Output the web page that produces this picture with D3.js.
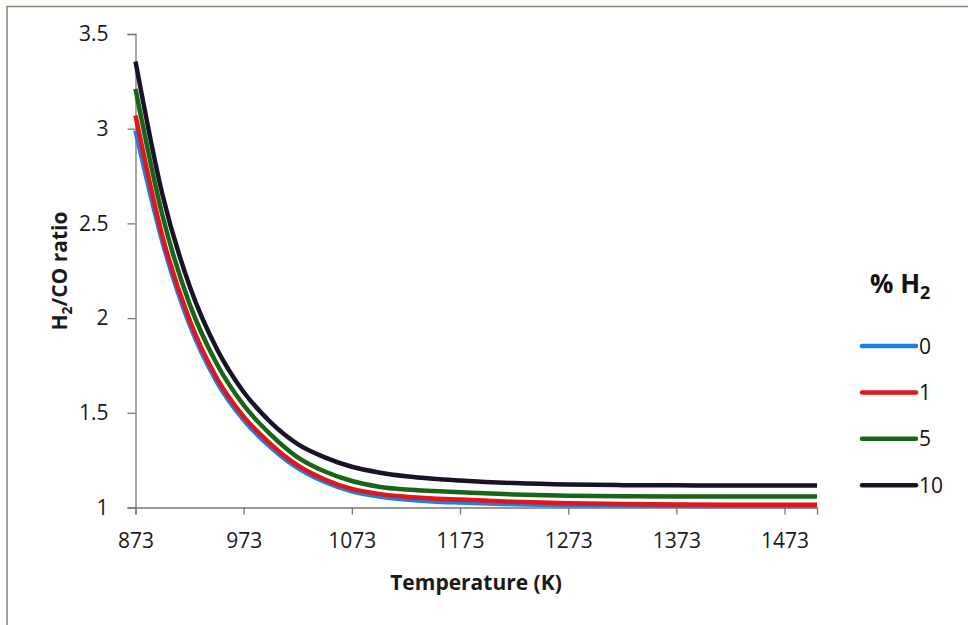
<!DOCTYPE html>
<html>
<head>
<meta charset="utf-8">
<script src="https://cdn.jsdelivr.net/npm/d3@7"></script>
<style>
  body { margin: 0; background: #fff; }
  svg { display: block; font-family: "Open Sans", sans-serif; }
</style>
</head>
<body>
<svg id="chart" width="976" height="625"></svg>
<script>
// temperature (K) where values were read
var temps = [873, 898, 923, 948, 973, 998, 1023, 1048, 1073, 1098, 1123, 1148, 1173, 1223, 1273, 1323, 1373, 1423, 1473, 1503];

// H2/CO ratio per % H2 in feed
var h2_0  = [2.99, 2.40, 1.965, 1.665, 1.462, 1.318, 1.208, 1.135, 1.085, 1.058, 1.042, 1.032, 1.026, 1.017, 1.012, 1.010, 1.009, 1.008, 1.008, 1.008];
var h2_1  = [3.07, 2.43, 1.99, 1.685, 1.48, 1.335, 1.222, 1.148, 1.098, 1.072, 1.057, 1.048, 1.042, 1.030, 1.022, 1.018, 1.016, 1.015, 1.015, 1.015];
var h2_5  = [3.21, 2.54, 2.075, 1.76, 1.54, 1.385, 1.265, 1.19, 1.14, 1.11, 1.095, 1.087, 1.081, 1.069, 1.062, 1.059, 1.058, 1.058, 1.058, 1.058];
var h2_10 = [3.355, 2.65, 2.17, 1.84, 1.61, 1.45, 1.335, 1.265, 1.215, 1.185, 1.165, 1.152, 1.143, 1.129, 1.121, 1.118, 1.117, 1.116, 1.116, 1.116];

var seriesNames = ["0", "1", "5", "10"];
var seriesColors = ["#1e7fe0", "#e3141b", "#176617", "#1a1226"];

var xTicks = [873, 973, 1073, 1173, 1273, 1373, 1473];
var yTicks = [1, 1.5, 2, 2.5, 3, 3.5];

var series = [h2_0, h2_1, h2_5, h2_10].map(function(vals, i){
	return { name: seriesNames[i], color: seriesColors[i],
		points: vals.map(function(v, j){ return { t: temps[j], v: v }; }) };
});

var svg = d3.select('#chart');

// scanned frame
svg.append('path')
	.attr('d', 'M7,625V6.5H968')
	.attr('fill', 'none')
	.attr('stroke', '#8c8272')
	.attr('stroke-width', 1.5);

var x = d3.scaleLinear().domain([873, 1503]).range([135.5, 817]);
var y = d3.scaleLinear().domain([1, 3.5]).range([507.5, 34]);

// axes
var xAxis = svg.append('g')
	.attr('transform', 'translate(0,' + y(1) + ')')
	.call(d3.axisBottom(x).tickValues(xTicks).tickSize(7).tickPadding(19).tickFormat(d3.format('d')));
var yAxis = svg.append('g')
	.attr('transform', 'translate(' + x(873) + ',0)')
	.call(d3.axisLeft(y).tickValues(yTicks).tickSize(8).tickPadding(19).tickFormat(function(d){ return d; }));

[xAxis, yAxis].forEach(function(a){
	a.select('.domain').attr('stroke', '#777').attr('stroke-width', 1.3);
	a.selectAll('.tick line').attr('stroke', '#777').attr('stroke-width', 1.3);
	a.selectAll('.tick text').attr('font-size', 21).attr('fill', '#1a1a1a').attr('font-family', '"Open Sans", sans-serif');
});

// lines
var line = d3.line()
	.x(function(d){ return x(d.t); })
	.y(function(d){ return y(d.v); })
	.curve(d3.curveMonotoneX);

svg.append('g').selectAll('path')
	.data(series)
	.enter()
	.append('path')
	.attr('d', function(d){ return line(d.points); })
	.attr('fill', 'none')
	.attr('stroke', function(d){ return d.color; })
	.attr('stroke-width', 4.5)
	.attr('stroke-linecap', 'butt');

// axis titles
svg.append('text')
	.attr('x', 476).attr('y', 590)
	.attr('text-anchor', 'middle')
	.attr('font-size', 21).attr('font-weight', 'bold').attr('fill', '#1a1a1a')
	.text('Temperature (K)');

var yt = svg.append('text')
	.attr('transform', 'translate(67,271) rotate(-90)')
	.attr('text-anchor', 'middle')
	.attr('font-size', 21).attr('font-weight', 'bold').attr('fill', '#1a1a1a');
yt.append('tspan').text('H');
yt.append('tspan').attr('font-size', 14).attr('dy', 5).text('2');
yt.append('tspan').attr('dy', -5).text('/CO ratio');

// legend
var lt = svg.append('text')
	.attr('x', 870).attr('y', 293)
	.attr('font-size', 26).attr('font-weight', 'bold').attr('fill', '#111');
lt.append('tspan').text('% H');
lt.append('tspan').attr('font-size', 18).attr('dy', 6).text('2');

var legend = svg.append('g').selectAll('g')
	.data(series)
	.enter()
	.append('g')
	.attr('transform', function(d, i){ return 'translate(862,' + (346 + i * 46.4) + ')'; });

legend.append('line')
	.attr('x1', 0).attr('x2', 54)
	.attr('stroke', function(d){ return d.color; })
	.attr('stroke-width', 4.5)
	.attr('stroke-linecap', 'round');

legend.append('text')
	.attr('x', 57).attr('y', 7.5)
	.attr('font-size', 21).attr('fill', '#111')
	.text(function(d){ return d.name; });
</script>
</body>
</html>
